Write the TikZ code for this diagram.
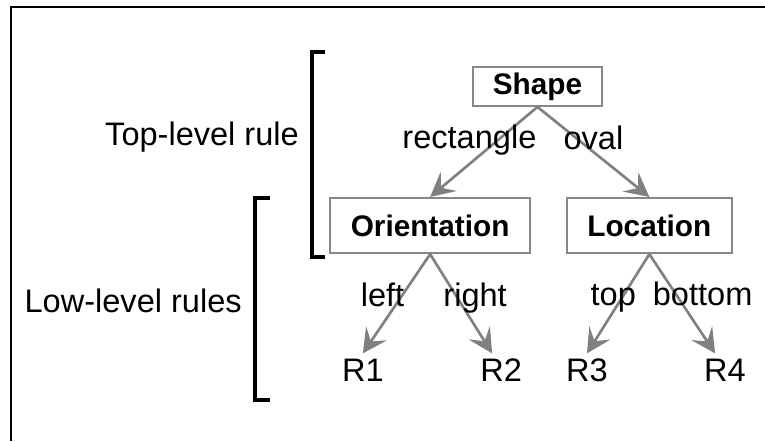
\documentclass[tikz,border=0pt]{standalone}
\usepackage{fontspec}
\setmainfont{Liberation Sans}
\usetikzlibrary{arrows.meta}

\begin{document}
\begin{tikzpicture}[line width=2pt,>={Stealth[length=6.4mm,width=6.6mm,inset=2.6mm]},
  font=\fontsize{24.5}{29}\selectfont,
  caja/.style={draw=black!47,line width=1.5pt,font=\fontsize{22.4}{26}\selectfont\bfseries},
  hoja/.style={inner sep=0pt,outer sep=14.3pt,text height=0.716em,text depth=0pt},
  rama/.style={->,draw=black!50},
  etiq/.style={text height=0.75em,text depth=0.2em,inner sep=0pt}]
  \useasboundingbox (0,0) rectangle (20.24,11.668);
  % marco
  \draw[line width=2pt] (0.29,0)--(0.29,11.48)--(20.24,11.48);
  % cajas y hojas
  \node[caja,minimum width=3.41cm,minimum height=1.03cm] (shape) at (14.22,9.38){Shape};
  \node[caja,minimum width=5.29cm,minimum height=1.46cm] (ori) at (11.38,5.70){Orientation};
  \node[caja,minimum width=4.37cm,minimum height=1.46cm] (loc) at (17.18,5.70){Location};
  \node[hoja] (r1) at (9.60,1.69){R1}; \node[hoja] (r2) at (13.26,1.69){R2};
  \node[hoja] (r3) at (15.53,1.69){R3}; \node[hoja] (r4) at (19.18,1.69){R4};
  % ramas
  \draw[rama] (shape.south)--(ori.north) node[etiq,midway,xshift=-0.38cm,yshift=0.2cm]{rectangle};
  \draw[rama] (shape.south)--(loc.north) node[etiq,midway,yshift=0.17cm]{oval};
  \draw[rama] (ori.south)--(r1.north) node[etiq,midway,xshift=-0.37cm,yshift=0.02cm]{left};
  \draw[rama] (ori.south)--([xshift=-0.24cm]r2.north) node[etiq,midway,xshift=0.37cm,yshift=0.02cm]{right};
  \draw[rama] (loc.south)--(r3.north) node[etiq,midway,xshift=-0.13cm,yshift=0.04cm]{top};
  \draw[rama] (loc.south)--([xshift=-0.26cm]r4.north) node[etiq,midway,xshift=0.54cm,yshift=0.04cm]{bottom};
  % corchetes de nivel
  \draw[line width=3pt] (8.60,10.29)-|(8.25,4.87)--(8.60,4.87);
  \draw[line width=3pt] (7.14,6.43)-|(6.75,1.08)--(7.14,1.08);
  \node[anchor=base east,inner sep=0pt] (top) at (7.94,7.81){Top-level rule};
  \node[anchor=base east,inner sep=0pt] (low) at (6.43,3.39){Low-level rules};
\end{tikzpicture}
\end{document}
